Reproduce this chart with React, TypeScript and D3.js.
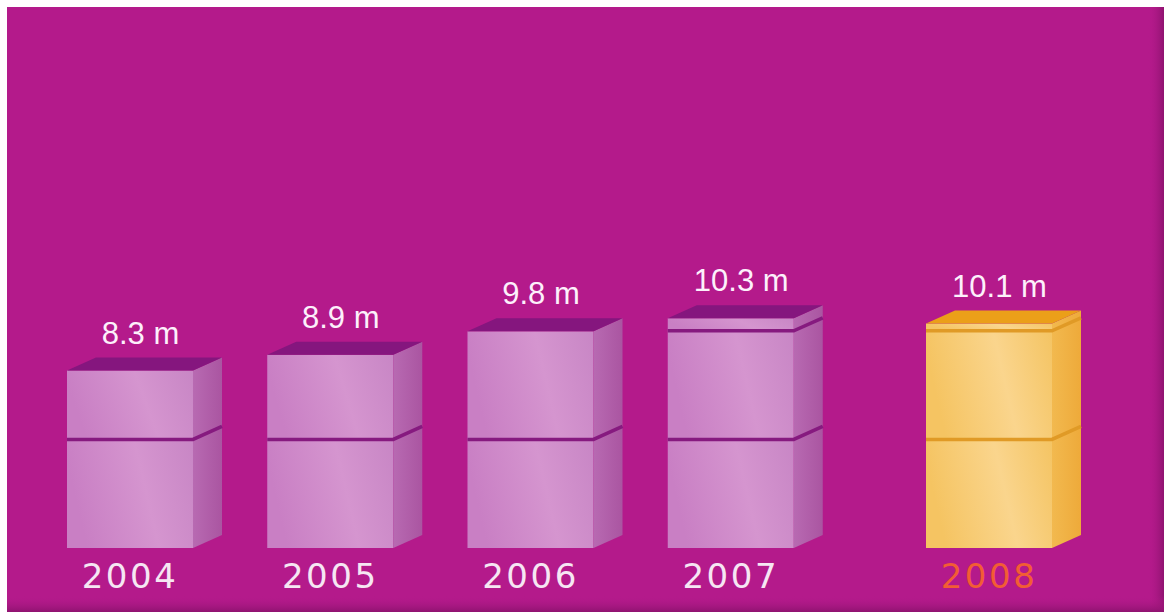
import React from "react";
import * as d3 from "d3";

const years = ["2004", "2005", "2006", "2007", "2008"];
const values = [8.3, 8.9, 9.8, 10.3, 10.1];
const valueLabels = ["8.3 m", "8.9 m", "9.8 m", "10.3 m", "10.1 m"];
const highlightYear = "2008";
const blockSize = 4.16; // each stacked block represents ~4.16 m
const axisBase = 1.5;
const axisTop = 10.3;

const W = 1164;
const H = 612;
const frontW = 126;
const dx = 29;
const dy = -13;
const highlightGap = 58;

const purple = { f0: "#c97fc4", f1: "#d595cf", f2: "#c886c5", s0: "#b86ab2", s1: "#aa55a1", top: "#85167e", seam: "#861a7f" };
const gold = { f0: "#f5c462", f1: "#fad58d", f2: "#f4c463", s0: "#f2b94f", s1: "#eeaa3a", top: "#eb9f19", seam: "#e09a26" };

export default function App() {
  const x = d3.scalePoint<string>().domain(years).range([130, 931]);
  const y = d3.scaleLinear().domain([axisBase, axisTop]).range([548, 318.3]);

  const bars = years.map((yr, i) => {
    const hl = yr === highlightYear;
    const cx = (x(yr) as number) + (hl ? highlightGap : 0);
    const x0 = cx - frontW / 2;
    const x1 = cx + frontW / 2;
    const v = values[i];
    const segs: [number, number][] = [];
    let a = axisBase;
    while (a < v - 1e-9) {
      const b = Math.min(a + blockSize, v);
      segs.push([a, b]);
      a = b;
    }
    return { yr, i, hl, cx, x0, x1, v, segs, c: hl ? gold : purple };
  });

  return (
    <svg width={W} height={H} style={{ position: "absolute", left: 0, top: 0, display: "block" }}>
      <defs>
        <linearGradient id="bgR" x1="0" x2="1" y1="0" y2="0">
          <stop offset="0" stopColor="#b41a8b" stopOpacity="0" />
          <stop offset="1" stopColor="#8f1370" stopOpacity="1" />
        </linearGradient>
        <linearGradient id="bgB" x1="0" x2="0" y1="0" y2="1">
          <stop offset="0" stopColor="#b41a8b" stopOpacity="0" />
          <stop offset="1" stopColor="#8f1370" stopOpacity="1" />
        </linearGradient>
        {[["p", purple], ["g", gold]].map(([k, c]: any) => (
          <React.Fragment key={k}>
            <linearGradient id={`front-${k}`} x1="0" x2="1" y1="0.2" y2="0">
              <stop offset="0" stopColor={c.f0} />
              <stop offset="0.55" stopColor={c.f1} />
              <stop offset="1" stopColor={c.f2} />
            </linearGradient>
            <linearGradient id={`side-${k}`} x1="0" x2="1" y1="0" y2="0">
              <stop offset="0" stopColor={c.s0} />
              <stop offset="1" stopColor={c.s1} />
            </linearGradient>
          </React.Fragment>
        ))}
      </defs>
      <rect x={0} y={0} width={W} height={H} fill="#ffffff" />
      <rect x={7} y={7} width={W - 7} height={H - 7} fill="#b41a8b" />
      <rect x={W - 16} y={7} width={16} height={H - 7} fill="url(#bgR)" />
      <rect x={7} y={H - 16} width={W - 7} height={16} fill="url(#bgB)" />

      {bars.map((b) => {
        const k = b.hl ? "g" : "p";
        const topSeg = b.segs[b.segs.length - 1];
        const yTop = y(topSeg[1]);
        return (
          <g key={b.yr}>
            {b.segs.map(([s0, s1], j) => {
              const yb = y(s0);
              const yt = y(s1);
              return (
                <g key={j}>
                  <rect x={b.x0} y={yt} width={frontW} height={yb - yt} fill={`url(#front-${k})`} />
                  <path
                    d={`M${b.x1},${yt}L${b.x1 + dx},${yt + dy}L${b.x1 + dx},${yb + dy}L${b.x1},${yb}Z`}
                    fill={`url(#side-${k})`}
                  />
                </g>
              );
            })}
            {b.segs.slice(0, -1).map(([, s1], j) => {
              const yt = y(s1);
              return (
                <path
                  key={`seam${j}`}
                  d={`M${b.x0},${yt}L${b.x1},${yt}L${b.x1 + dx},${yt + dy}`}
                  fill="none"
                  stroke={b.c.seam}
                  strokeWidth={3.5}
                />
              );
            })}
            <path
              d={`M${b.x0},${yTop}L${b.x0 + dx},${yTop + dy}L${b.x1 + dx},${yTop + dy}L${b.x1},${yTop}Z`}
              fill={b.c.top}
            />
            <text
              x={b.cx + dx / 2 - 4}
              y={yTop - 27}
              textAnchor="middle"
              fontFamily="'Liberation Sans', Arial, sans-serif"
              fontSize={31}
              fill="#fdf0fb"
            >
              {valueLabels[b.i]}
            </text>
            <text
              x={b.cx}
              y={588}
              textAnchor="middle"
              fontFamily="'DejaVu Sans', sans-serif"
              fontSize={34}
              letterSpacing={2.5}
              fill={b.hl ? "#f25d34" : "#f6e6f3"}
            >
              {b.yr}
            </text>
          </g>
        );
      })}
    </svg>
  );
}
